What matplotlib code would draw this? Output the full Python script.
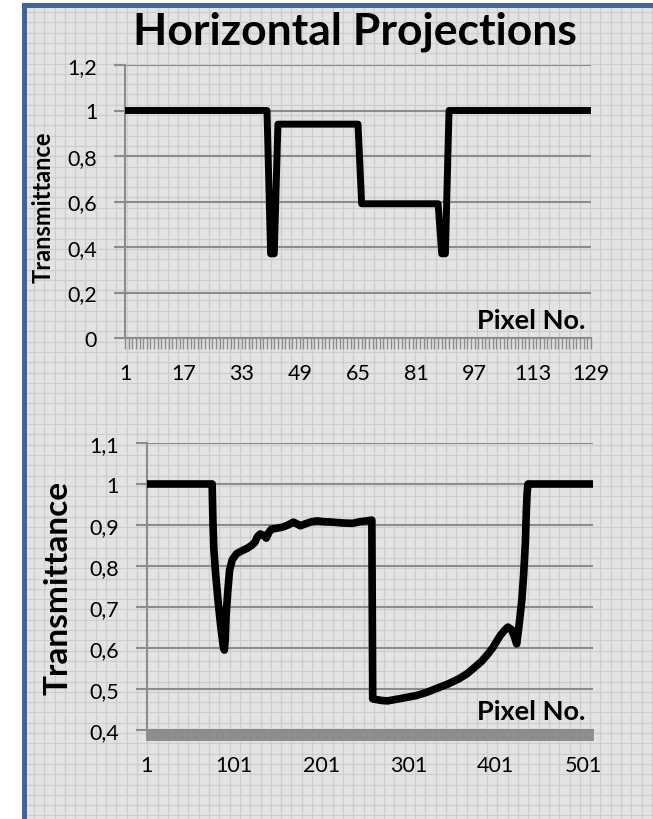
import matplotlib
matplotlib.use("Agg")
import matplotlib.pyplot as plt
from matplotlib.patches import Rectangle
import numpy as np

plt.rcParams['font.family'] = ['Lato', 'DejaVu Sans']

# ---------------- data ----------------
title = "Horizontal Projections"
y_label = "Transmittance"
x_label = "Pixel No."

# top chart: 129 pixels (run lengths)
top_values = ([1.0] * 40 + [0.37] * 2 + [0.94] * 23 + [0.59] * 22 +
              [0.37] * 2 + [1.0] * 40)
top_pixels = list(range(1, len(top_values) + 1))
top_xticks = [1, 17, 33, 49, 65, 81, 97, 113, 129]
top_yticks = [0, 0.2, 0.4, 0.6, 0.8, 1.0, 1.2]
top_yticklabels = ["0", "0,2", "0,4", "0,6", "0,8", "1", "1,2"]

# bottom chart: 512 pixels, sampled along the curve
bot_pixels = [1, 76, 77, 78, 80, 83, 86, 89, 90, 91, 92, 94, 96, 99, 104, 110,
              116, 121, 125, 128, 131, 135, 138, 141, 144, 150, 157, 163, 169,
              173, 177, 183, 190, 196, 205, 214, 225, 237, 245, 253, 259, 260,
              270, 277, 290, 310, 322, 334, 346, 358, 368, 377, 385, 392, 398,
              406, 411, 415, 419, 422, 425, 428, 431, 433, 435, 436, 437, 438,
              512]
bot_values = [1.0, 1.0, 0.90, 0.84, 0.78, 0.71, 0.65, 0.60, 0.595, 0.62, 0.68,
              0.74, 0.79, 0.815, 0.83, 0.837, 0.843, 0.85, 0.858, 0.872, 0.878,
              0.875, 0.868, 0.882, 0.89, 0.892, 0.895, 0.90, 0.907, 0.903,
              0.898, 0.903, 0.908, 0.91, 0.908, 0.907, 0.905, 0.904, 0.908,
              0.91, 0.912, 0.476, 0.472, 0.471, 0.476, 0.484, 0.492, 0.502,
              0.512, 0.524, 0.537, 0.553, 0.568, 0.585, 0.602, 0.63, 0.643,
              0.651, 0.645, 0.63, 0.61, 0.66, 0.72, 0.78, 0.86, 0.93, 0.98,
              1.0, 1.0]
bot_n = 512
bot_xticks = [1, 101, 201, 301, 401, 501]
bot_yticks = [0.4, 0.5, 0.6, 0.7, 0.8, 0.9, 1.0, 1.1]
bot_yticklabels = ["0,4", "0,5", "0,6", "0,7", "0,8", "0,9", "1", "1,1"]

# ---------------- figure ----------------
W, H = 653, 820
fig = plt.figure(figsize=(W / 100, H / 100), dpi=100)
fig.patch.set_facecolor('white')

# background (graph-paper look) in pixel coordinates
bg = fig.add_axes([0, 0, 1, 1])
bg.set_xlim(0, W)
bg.set_ylim(H, 0)
bg.axis('off')
bg.add_patch(Rectangle((27, 8), W - 27, H - 8, facecolor='#e3e3e3',
                       edgecolor='none', zorder=0))
for gx in np.arange(34, W, 10.3):
    bg.plot([gx, gx], [8, H], color='#cdcdcd', lw=0.9, zorder=1)
for gy in np.arange(13, H, 10.3):
    bg.plot([27, W], [gy, gy], color='#cdcdcd', lw=0.9, zorder=1)
# blue frame
bg.add_patch(Rectangle((22, 4), 5, H - 4, facecolor='#41659a',
                       edgecolor='none', zorder=2))
bg.add_patch(Rectangle((22, 4), W - 22, 4.5, facecolor='#41659a',
                       edgecolor='none', zorder=2))

GRAY = '#8c8c8c'
TICKFS = 15.5


def px_axes(left, right, top, bottom):
    return fig.add_axes([left / W, 1 - bottom / H, (right - left) / W,
                         (bottom - top) / H])


def style(ax):
    ax.set_facecolor('none')
    for s in ['top', 'right']:
        ax.spines[s].set_visible(False)
    for s in ['left', 'bottom']:
        ax.spines[s].set_color(GRAY)
        ax.spines[s].set_linewidth(1.5)
    ax.yaxis.grid(True, color=GRAY, lw=1.5)
    ax.set_axisbelow(True)
    ax.tick_params(axis='y', which='major', length=8, width=1.5, color=GRAY,
                   pad=12, labelsize=TICKFS)
    ax.tick_params(axis='x', which='both', length=8, width=1.0, color=GRAY,
                   direction='out', pad=10, labelsize=TICKFS)


# ---- top chart ----
ax1 = px_axes(125, 591, 66, 339)
style(ax1)
ax1.plot(top_pixels, top_values, color='black', lw=5.0,
         solid_capstyle='round', solid_joinstyle='round', zorder=5)
ax1.set_xlim(1, len(top_values))
ax1.set_ylim(0, 1.2)
ax1.set_yticks(top_yticks)
ax1.set_yticklabels(top_yticklabels)
ax1.set_xticks(top_xticks)
ax1.set_xticklabels([str(t) for t in top_xticks])
ax1.set_xticks(top_pixels, minor=True)
ax1.text(585 / W, 1 - 329 / H, x_label, transform=fig.transFigure,
         ha='right', va='baseline', fontsize=19.5, fontweight='bold')

# ---- bottom chart ----
ax2 = px_axes(146.7, 592.6, 444, 731)
style(ax2)
ax2.plot(bot_pixels, bot_values, color='black', lw=5.5,
         solid_capstyle='round', solid_joinstyle='round', zorder=5)
ax2.set_xlim(1, bot_n)
ax2.set_ylim(0.4, 1.1)
ax2.set_yticks(bot_yticks)
ax2.set_yticklabels(bot_yticklabels)
ax2.set_xticks(bot_xticks)
ax2.set_xticklabels([str(t) for t in bot_xticks])
ax2.set_xticks(range(1, bot_n + 1), minor=True)
ax2.tick_params(axis='x', which='both', width=1.2)
ax2.text(585 / W, 1 - 720.5 / H, x_label, transform=fig.transFigure,
         ha='right', va='baseline', fontsize=19.5, fontweight='bold')

# titles and y labels
fig.text(355 / W, 1 - 45 / H, title, ha='center', va='baseline',
         fontsize=32, fontweight='bold')
fig.text(43 / W, 1 - 207 / H, y_label, rotation=90, ha='center', va='center',
         fontsize=17, fontweight='bold')
fig.text(58 / W, 1 - 588 / H, y_label, rotation=90, ha='center', va='center',
         fontsize=24, fontweight='bold')

fig.savefig('out.png', dpi=100)
